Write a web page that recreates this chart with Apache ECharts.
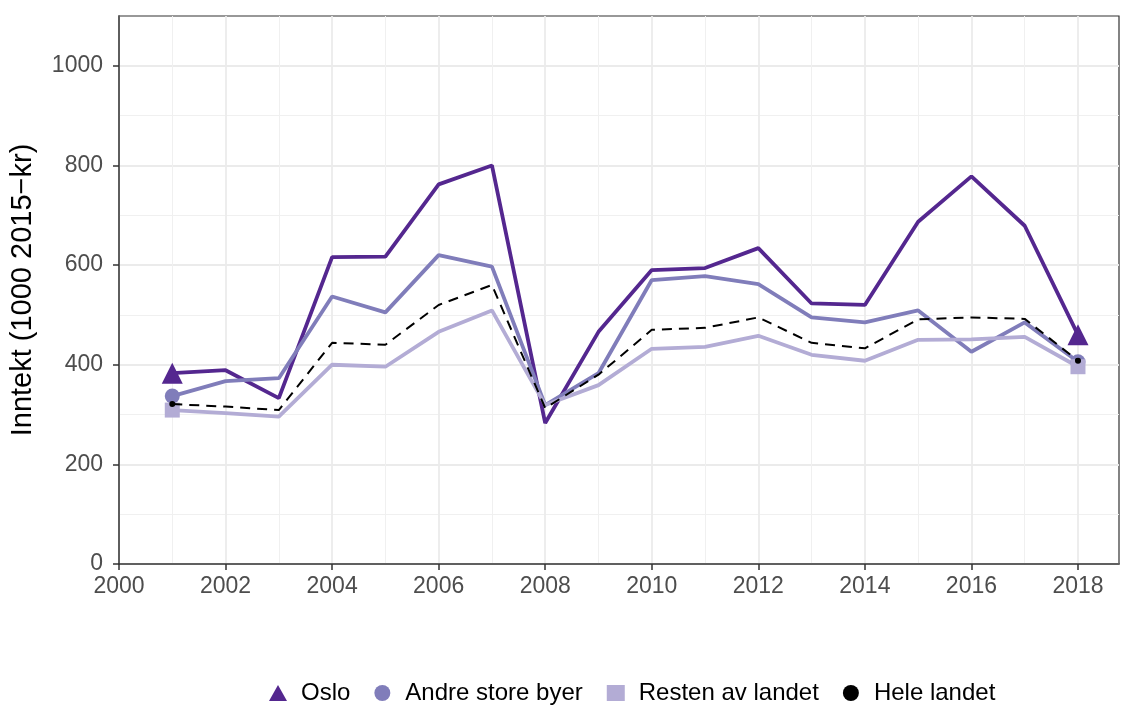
<!DOCTYPE html>
<html>
<head>
<meta charset="utf-8">
<script src="https://cdn.jsdelivr.net/npm/echarts@6/dist/echarts.min.js"></script>
<style>
  html, body { margin: 0; padding: 0; background: #fff; }
  #chart { width: 1121px; height: 707px; }
</style>
</head>
<body>
<div id="chart"></div>
<script>
  const years = [2001, 2002, 2003, 2004, 2005, 2006, 2007, 2008, 2009, 2010, 2011, 2012, 2013, 2014, 2015, 2016, 2017, 2018];
  const oslo = [383, 389, 333, 616, 617, 762, 800, 283, 466, 590, 594, 634, 523, 520, 687, 778, 679, 460];
  const andre = [337, 367, 373, 537, 505, 620, 597, 319, 383, 570, 578, 562, 495, 485, 509, 426, 485, 406];
  const resten = [309, 303, 296, 400, 396, 466, 509, 319, 359, 432, 436, 458, 420, 408, 450, 451, 456, 396];
  const hele = [321, 316, 309, 444, 440, 520, 560, 313, 380, 470, 474, 495, 444, 433, 491, 495, 492, 408];
  const seriesNames = ['Oslo', 'Andre store byer', 'Resten av landet', 'Hele landet'];
  const xTicks = [2000, 2002, 2004, 2006, 2008, 2010, 2012, 2014, 2016, 2018];
  const yTicks = [0, 200, 400, 600, 800, 1000];

  const font = 'Liberation Sans, Arial, sans-serif';
  const pairs = (vals) => years.map((y, i) => [y, vals[i]]);
  // markers only at first and last year
  const endSymbol = (shape) => (v, p) => (p.dataIndex === 0 || p.dataIndex === years.length - 1) ? shape : 'none';

  const makeLine = (name, vals, color, shape, size, width, dashed) => ({
    name: name,
    type: 'line',
    data: pairs(vals),
    symbol: endSymbol(shape),
    symbolSize: size,
    showSymbol: true,
    showAllSymbol: true,
    itemStyle: { color: color },
    lineStyle: { color: color, width: width, type: dashed ? [10, 7] : 'solid' },
    emphasis: { disabled: true },
    z: dashed ? 5 : 2
  });

  const chart = echarts.init(document.getElementById('chart'));
  chart.setOption({
    animation: false,
    textStyle: { fontFamily: font },
    grid: {
      left: 119, right: 2, top: 16, bottom: 143,
      outerBoundsMode: 'none', containLabel: false,
      show: true, borderColor: '#333', borderWidth: 1.2, backgroundColor: 'transparent'
    },
    legend: {
      left: 264, top: 676,
      itemWidth: 18, itemHeight: 16, itemGap: 24,
      textStyle: { fontSize: 24, color: '#000', fontFamily: font, padding: [0, 0, 0, 9] },
      data: [
        { name: 'Oslo', icon: 'triangle' },
        { name: 'Andre store byer', icon: 'circle' },
        { name: 'Resten av landet', icon: 'rect' },
        { name: 'Hele landet', icon: 'circle', itemStyle: { color: '#000' } }
      ]
    },
    xAxis: {
      type: 'value', min: 2000, max: 2018.77, interval: 2,
      axisLine: { lineStyle: { color: '#333', width: 1.5 } },
      axisTick: { length: 6, customValues: xTicks, lineStyle: { color: '#333', width: 1.5 } },
      axisLabel: {
        color: '#4d4d4d', fontSize: 23, margin: 11, customValues: xTicks,
        formatter: (v) => String(v)
      },
      splitLine: { lineStyle: { color: '#ebebeb', width: 1.8 } },
      minorTick: { show: false, splitNumber: 2 },
      minorSplitLine: { show: true, lineStyle: { color: '#f0f0f0', width: 1 } }
    },
    yAxis: {
      type: 'value', min: 0, max: 1100, interval: 200,
      name: 'Inntekt (1000 2015\u2212kr)', nameLocation: 'middle', nameGap: 82,
      nameTextStyle: { fontSize: 29, color: '#000', fontFamily: font },
      axisLine: { show: true, lineStyle: { color: '#333', width: 1.5 } },
      axisTick: { show: true, length: 6, customValues: yTicks, lineStyle: { color: '#333', width: 1.5 } },
      axisLabel: {
        color: '#4d4d4d', fontSize: 23, margin: 16, customValues: yTicks,
        formatter: (v) => String(v)
      },
      splitLine: { lineStyle: { color: '#ebebeb', width: 1.8 } },
      minorTick: { show: false, splitNumber: 2 },
      minorSplitLine: { show: true, lineStyle: { color: '#f0f0f0', width: 1 } }
    },
    series: [
      makeLine(seriesNames[0], oslo, '#54278f', 'triangle', 21, 3.8, false),
      makeLine(seriesNames[1], andre, '#807dba', 'circle', 15, 3.8, false),
      makeLine(seriesNames[2], resten, '#b3acd5', 'rect', 15, 3.8, false),
      makeLine(seriesNames[3], hele, '#000', 'circle', 6, 2, true)
    ]
  });
</script>
</body>
</html>
